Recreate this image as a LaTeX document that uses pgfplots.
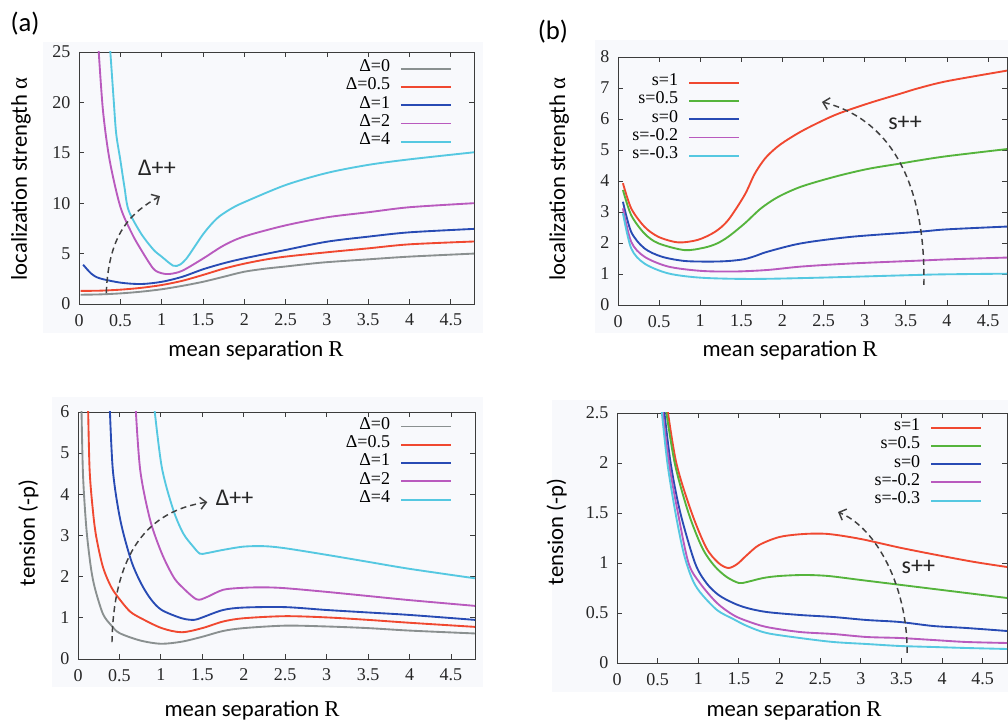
\documentclass[border=0pt]{standalone}
\usepackage{fontspec}
\setmainfont{Liberation Serif}
\newfontfamily\labelfont{Carlito}
\usepackage{pgfplots}
\pgfplotsset{compat=1.18}
\usetikzlibrary{arrows.meta}

\definecolor{cgrey}{RGB}{138,144,144}
\definecolor{cred}{RGB}{240,72,48}
\definecolor{cblue}{RGB}{40,75,180}
\definecolor{cmag}{RGB}{185,90,190}
\definecolor{ccyan}{RGB}{85,200,225}
\definecolor{cgreen}{RGB}{85,180,60}
\definecolor{panelbg}{RGB}{248,249,252}
\definecolor{axcol}{RGB}{60,60,60}

\tikzset{
  trend/.style={black!75, line width=1.1pt, dash pattern=on 4.5pt off 3pt,
    -{Straight Barb[length=4.5pt,width=9pt]}},
  trendlabel/.style={font=\labelfont\fontsize{18}{20}\selectfont, text=black!85},
}

\pgfplotsset{
  panel/.style={
    scale only axis, anchor=south west,
    xmin=0, ymin=0,
    xtick={0,0.5,1,1.5,2,2.5,3,3.5,4,4.5},
    axis line style={axcol, line width=0.6pt},
    tick style={axcol, line width=0.6pt},
    major tick length=4pt,
    tick align=inside,
    ticklabel style={font=\fontsize{13.5}{14}\selectfont, text=black!85},
    /pgf/number format/assume math mode=true,
    xticklabel style={yshift=-4pt},
    yticklabel style={xshift=-3pt},
    legend plot pos=right,
    legend cell align=right,
    legend style={draw=none, fill=none, inner sep=0pt, outer sep=0pt,
      font=\fontsize{13.5}{14}\selectfont, row sep=0pt, column sep=7.5pt,
      nodes={inner sep=0pt, text height=9pt, text depth=4.7pt},
      anchor=north east},
    legend image code/.code={\draw[##1] (0pt,0pt) -- (37.5pt,0pt);},
    every axis plot/.append style={line width=1.4pt, smooth},
  },
}

\begin{document}
\begin{tikzpicture}
\useasboundingbox (0,0) rectangle (756pt,542.25pt);
% panel backgrounds
\fill[panelbg] (32.25pt,292.5pt) rectangle (362.25pt,510.75pt);
\fill[panelbg] (446.25pt,292.5pt) rectangle (756pt,512.25pt);
\fill[panelbg] (39pt,27pt) rectangle (362.25pt,244.5pt);
\fill[panelbg] (414pt,23.25pt) rectangle (756pt,242.25pt);

% ---------- (a) localization strength ----------
\begin{axis}[panel, at={(59.25pt,314.25pt)}, width=296.25pt, height=189pt,
  xmax=4.78, ymax=25, ytick={0,5,10,15,20,25},
  legend style={at={(0.944,0.970)}}]
\addplot[cgrey] coordinates {(0.02,0.92) (0.25,0.95) (0.5,1.05) (0.75,1.22) (1.0,1.46) (1.25,1.8) (1.5,2.2) (1.75,2.7) (2.0,3.2) (2.25,3.5) (2.5,3.72) (2.75,3.95) (3.0,4.15) (3.5,4.43) (4.0,4.7) (4.78,5.0)};
\addlegendentry{Δ=0}
\addplot[cred] coordinates {(0.02,1.3) (0.25,1.32) (0.5,1.42) (0.75,1.6) (1.0,1.88) (1.25,2.3) (1.5,2.88) (1.75,3.5) (2.0,4.0) (2.25,4.4) (2.5,4.7) (3.0,5.13) (3.5,5.52) (4.0,5.92) (4.78,6.2)};
\addlegendentry{Δ=0.5}
\addplot[cblue] coordinates {(0.05,3.9) (0.15,3.0) (0.25,2.55) (0.5,2.12) (0.75,1.98) (1.0,2.2) (1.25,2.7) (1.5,3.44) (1.75,4.04) (2.0,4.53) (2.5,5.36) (3.0,6.18) (3.5,6.68) (4.0,7.11) (4.78,7.45)};
\addlegendentry{Δ=1}
\addplot[cmag] coordinates {(0.235,25.5) (0.29,19.2) (0.37,14.3) (0.5,9.65) (0.64,7.0) (0.75,5.4) (0.9,3.5) (1.0,3.05) (1.1,2.98) (1.25,3.3) (1.5,4.5) (1.75,5.8) (2.0,6.7) (2.5,7.8) (3.0,8.6) (3.5,9.1) (4.0,9.6) (4.78,10.0)};
\addlegendentry{Δ=2}
\addplot[ccyan] coordinates {(0.375,25.5) (0.42,20.2) (0.45,16.9) (0.5,14.3) (0.55,11.6) (0.6,9.3) (0.75,7.0) (0.9,5.4) (1.0,4.7) (1.14,3.8) (1.22,3.9) (1.3,4.5) (1.4,5.7) (1.5,6.9) (1.6,7.9) (1.7,8.7) (1.85,9.5) (2.0,10.1) (2.5,11.8) (3.0,13.0) (3.5,13.8) (4.0,14.35) (4.78,15.05)};
\addlegendentry{Δ=4}
\draw[trend] (axis cs:0.33,1.1) .. controls (axis cs:0.36,7) and (axis cs:0.62,9.0) .. (axis cs:0.98,10.7);
\node[trendlabel] at (axis cs:0.944,13.5) {Δ++};
\end{axis}

% ---------- (b) localization strength ----------
\begin{axis}[panel, at={(463.5pt,313.5pt)}, width=291.75pt, height=186pt,
  xmax=4.73, ymax=8, ytick={0,1,2,3,4,5,6,7,8},
  legend style={at={(0.3136,0.933)}}]
\addplot[cred] coordinates {(0.06,3.93) (0.16,3.12) (0.32,2.53) (0.49,2.2) (0.73,2.02) (0.97,2.1) (1.18,2.36) (1.34,2.74) (1.54,3.55) (1.66,4.22) (1.78,4.7) (1.9,5.02) (2.03,5.28) (2.27,5.66) (2.64,6.13) (3.04,6.5) (3.45,6.83) (3.65,6.99) (4.0,7.22) (4.73,7.56)};
\addlegendentry{s=1}
\addplot[cgreen] coordinates {(0.06,3.71) (0.16,2.9) (0.32,2.31) (0.49,1.99) (0.81,1.77) (1.05,1.85) (1.2,1.98) (1.34,2.2) (1.54,2.63) (1.74,3.12) (1.95,3.49) (2.23,3.82) (2.64,4.14) (3.04,4.39) (3.45,4.57) (3.65,4.66) (4.0,4.8) (4.73,5.03)};
\addlegendentry{s=0.5}
\addplot[cblue] coordinates {(0.06,3.33) (0.16,2.36) (0.32,1.83) (0.53,1.56) (0.81,1.42) (1.14,1.4) (1.35,1.42) (1.54,1.48) (1.68,1.59) (1.82,1.72) (2.23,1.99) (2.84,2.2) (3.65,2.36) (4.0,2.44) (4.73,2.53)};
\addlegendentry{s=0}
\addplot[cmag] coordinates {(0.06,3.12) (0.16,2.04) (0.32,1.56) (0.61,1.24) (1.01,1.1) (1.42,1.08) (1.82,1.13) (2.23,1.24) (2.84,1.34) (3.65,1.43) (4.0,1.47) (4.73,1.53)};
\addlegendentry{s=-0.2}
\addplot[ccyan] coordinates {(0.06,2.96) (0.16,1.83) (0.32,1.34) (0.61,1.02) (1.01,0.88) (1.62,0.84) (2.43,0.88) (3.65,0.97) (4.0,0.99) (4.73,1.01)};
\addlegendentry{s=-0.3}
\draw[trend] (axis cs:3.72,0.65) .. controls (axis cs:3.74,4.0) and (axis cs:3.3,6.0) .. (axis cs:2.48,6.55);
\node[trendlabel] at (axis cs:3.49,5.87) {s++};
\end{axis}

% ---------- (a) tension ----------
\begin{axis}[panel, at={(58.5pt,48pt)}, width=297.75pt, height=185.25pt,
  xmax=4.79, ymax=6, ytick={0,1,2,3,4,5,6},
  legend style={at={(0.942,0.978)}}]
\addplot[cgrey] coordinates {(0.04,6.3) (0.06,4.5) (0.1,3.2) (0.15,2.3) (0.2,1.75) (0.3,1.1) (0.4,0.82) (0.5,0.63) (0.75,0.45) (1.0,0.37) (1.25,0.42) (1.5,0.54) (1.75,0.68) (2.0,0.75) (2.5,0.81) (3.0,0.79) (3.5,0.75) (4.0,0.69) (4.79,0.62)};
\addlegendentry{Δ=0}
\addplot[cred] coordinates {(0.12,6.3) (0.14,4.6) (0.18,3.6) (0.22,2.97) (0.3,2.24) (0.4,1.75) (0.51,1.43) (0.63,1.15) (0.76,0.99) (1.01,0.75) (1.25,0.65) (1.5,0.75) (1.75,0.91) (2.0,0.99) (2.5,1.04) (3.0,1.01) (3.5,0.95) (4.0,0.88) (4.79,0.78)};
\addlegendentry{Δ=0.5}
\addplot[cblue] coordinates {(0.38,6.3) (0.42,4.6) (0.51,3.38) (0.64,2.4) (0.76,1.84) (0.88,1.45) (1.01,1.19) (1.25,0.99) (1.4,0.95) (1.5,1.01) (1.75,1.19) (2.0,1.25) (2.5,1.26) (3.0,1.19) (3.5,1.13) (4.0,1.07) (4.79,0.95)};
\addlegendentry{Δ=1}
\addplot[cmag] coordinates {(0.69,6.3) (0.75,4.6) (0.87,3.38) (1.01,2.57) (1.15,2.0) (1.25,1.76) (1.43,1.45) (1.55,1.5) (1.75,1.68) (2.0,1.73) (2.25,1.74) (2.5,1.72) (3.0,1.63) (3.5,1.53) (4.0,1.43) (4.79,1.29)};
\addlegendentry{Δ=2}
\addplot[ccyan] coordinates {(0.91,6.3) (1.01,4.67) (1.15,3.62) (1.27,3.05) (1.39,2.73) (1.47,2.56) (1.55,2.57) (1.75,2.65) (2.0,2.73) (2.25,2.74) (2.5,2.69) (3.0,2.53) (3.5,2.36) (4.0,2.19) (4.79,1.96)};
\addlegendentry{Δ=4}
\draw[trend] (axis cs:0.41,0.41) .. controls (axis cs:0.43,2.6) and (axis cs:0.85,3.6) .. (axis cs:1.56,3.81);
\node[trendlabel] at (axis cs:1.89,3.91) {Δ++};
\end{axis}

% ---------- (b) tension ----------
\begin{axis}[panel, at={(462.75pt,45pt)}, width=292.5pt, height=187.5pt,
  xmax=4.8, ymax=2.5, ytick={0,0.5,1,1.5,2,2.5},
  legend style={at={(0.936,0.978)}}]
\addplot[cred] coordinates {(0.61,2.6) (0.73,2.0) (0.92,1.5) (1.1,1.15) (1.25,1.0) (1.37,0.95) (1.48,0.99) (1.6,1.08) (1.75,1.18) (2.0,1.26) (2.3,1.29) (2.6,1.29) (3.0,1.24) (3.5,1.15) (4.0,1.07) (4.4,1.01) (4.8,0.96)};
\addlegendentry{s=1}
\addplot[cgreen] coordinates {(0.59,2.6) (0.71,2.0) (0.88,1.5) (1.05,1.15) (1.2,0.97) (1.35,0.86) (1.5,0.8) (1.6,0.81) (1.8,0.85) (2.0,0.87) (2.3,0.88) (2.6,0.87) (3.0,0.83) (3.5,0.78) (4.0,0.73) (4.4,0.69) (4.8,0.65)};
\addlegendentry{s=0.5}
\addplot[cblue] coordinates {(0.57,2.6) (0.66,2.0) (0.78,1.5) (0.96,1.0) (1.1,0.8) (1.25,0.68) (1.43,0.6) (1.6,0.55) (1.84,0.51) (2.25,0.48) (2.66,0.46) (3.07,0.43) (3.48,0.41) (3.89,0.37) (4.3,0.35) (4.8,0.32)};
\addlegendentry{s=0}
\addplot[cmag] coordinates {(0.55,2.6) (0.64,2.0) (0.75,1.5) (0.88,1.0) (1.02,0.8) (1.23,0.6) (1.43,0.48) (1.6,0.42) (1.84,0.36) (2.25,0.31) (2.66,0.29) (3.07,0.26) (3.48,0.25) (3.89,0.23) (4.3,0.21) (4.8,0.2)};
\addlegendentry{s=-0.2}
\addplot[ccyan] coordinates {(0.54,2.6) (0.62,2.0) (0.72,1.5) (0.82,1.1) (0.92,0.85) (1.02,0.71) (1.23,0.53) (1.43,0.44) (1.6,0.37) (1.84,0.3) (2.25,0.25) (2.66,0.21) (3.07,0.19) (3.48,0.17) (3.89,0.16) (4.3,0.15) (4.8,0.14)};
\addlegendentry{s=-0.3}
\draw[trend] (axis cs:3.57,0.1) .. controls (axis cs:3.58,0.75) and (axis cs:3.2,1.35) .. (axis cs:2.72,1.51);
\node[trendlabel] at (axis cs:3.71,0.96) {s++};
\end{axis}

% panel tags and axis titles
\node[font=\labelfont\fontsize{20}{22}\selectfont] at (18.75pt,524.25pt) {(a)};
\node[font=\labelfont\fontsize{20}{22}\selectfont] at (414.75pt,518.25pt) {(b)};
\begin{scope}[every node/.style={font=\labelfont\fontsize{17}{19}\selectfont}]
\node[rotate=90, anchor=base] at (20.25pt,408pt) {localization strength {\rmfamily α}};
\node[rotate=90, anchor=base] at (423.75pt,408pt) {localization strength {\rmfamily α}};
\node[rotate=90, anchor=base] at (26.25pt,142.5pt) {tension (-p)};
\node[rotate=90, anchor=base] at (422.25pt,143.25pt) {tension (-p)};
\node[anchor=base] at (192pt,274.5pt) {mean separation {\rmfamily R}};
\node[anchor=base] at (592.5pt,274.5pt) {mean separation {\rmfamily R}};
\node[anchor=base] at (189pt,4.5pt) {mean separation {\rmfamily R}};
\node[anchor=base] at (595.5pt,4.5pt) {mean separation {\rmfamily R}};
\end{scope}
\end{tikzpicture}
\end{document}
